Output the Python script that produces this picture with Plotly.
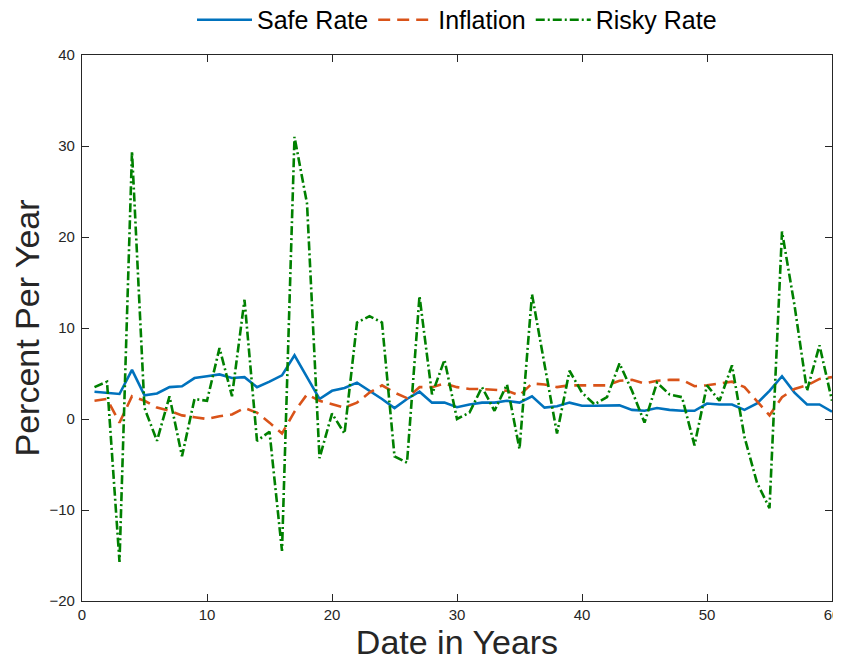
import plotly.graph_objects as go

years = list(range(1, 61))

safe_rate = [3.0, 2.9, 2.75, 5.4, 2.6, 2.8, 3.5, 3.6, 4.5, 4.7,
             4.9, 4.5, 4.6, 3.5, 4.1, 4.8, 7.0, 4.6, 2.2, 3.1,
             3.4, 4.0, 3.1, 2.2, 1.2, 2.2, 3.0, 1.8, 1.8, 1.3,
             1.6, 1.8, 1.8, 2.0, 1.8, 2.5, 1.25, 1.4, 1.8, 1.45,
             1.45, 1.5, 1.5, 1.0, 0.9, 1.2, 1.0, 0.9, 0.9, 1.7,
             1.6, 1.6, 1.0, 1.7, 3.1, 4.7, 2.9, 1.6, 1.6, 0.8]

inflation = [2.0, 2.2, -0.4, 2.5, 2.0, 1.25, 0.9, 0.4, 0.2, 0.0,
             0.3, 0.5, 1.2, 0.7, -0.4, -1.6, 0.8, 2.7, 2.0, 1.6,
             1.25, 1.8, 2.9, 3.7, 2.9, 2.3, 3.5, 3.5, 3.9, 3.5,
             3.3, 3.3, 3.2, 3.1, 2.6, 3.9, 3.8, 3.5, 3.7, 3.7,
             3.7, 3.7, 4.2, 4.3, 3.9, 4.2, 4.3, 4.3, 3.6, 3.7,
             3.9, 4.1, 3.5, 2.0, 0.4, 2.4, 3.3, 3.7, 4.4, 4.6]

risky_rate = [3.5, 4.1, -15.7, 29.4, 1.2, -2.4, 2.5, -4.1, 2.2, 2.0,
              7.8, 2.5, 13.1, -2.4, -1.4, -14.5, 31.0, 23.7, -4.3, 0.6,
              -1.6, 10.6, 11.3, 10.6, -4.1, -4.8, 13.5, 2.7, 6.5, 0.0,
              0.7, 3.5, 0.9, 3.8, -3.3, 13.7, 6.0, -1.6, 5.3, 2.9,
              1.6, 2.4, 6.1, 3.1, -0.4, 4.0, 2.7, 2.4, -2.9, 3.7,
              2.0, 5.9, -2.0, -7.0, -9.8, 20.6, 12.5, 3.1, 8.1, 2.0]

x_ticks = [0, 10, 20, 30, 40, 50, 60]
y_ticks = [-20, -10, 0, 10, 20, 30, 40]

FONT = "Liberation Sans, Arial, Helvetica, sans-serif"
AXC = "#262626"

fig = go.Figure()
fig.add_trace(go.Scatter(x=years, y=safe_rate, mode="lines", name="Safe Rate",
                         line=dict(color="#0072BD", width=2.6)))
fig.add_trace(go.Scatter(x=years, y=inflation, mode="lines", name="Inflation",
                         line=dict(color="#D95319", width=2.6, dash="12px,7px")))
fig.add_trace(go.Scatter(x=years, y=risky_rate, mode="lines", name="Risky Rate",
                         line=dict(color="#008000", width=2.6, dash="9px,3px,2px,3px")))

axis_common = dict(
    showgrid=False, zeroline=False, showline=True, linecolor=AXC, linewidth=1.3,
    mirror="ticks", ticks="inside", ticklen=7, tickwidth=1.3, tickcolor=AXC,
    tickfont=dict(family=FONT, size=15, color=AXC), automargin=False,
    ticklabeloverflow="allow",
)

# page body has an 8px default margin, so the figure is sized to fit the 841x661 window
fig.update_layout(
    width=833, height=653,
    margin=dict(l=74, r=9, t=47, b=60, autoexpand=False),
    paper_bgcolor="white", plot_bgcolor="white",
    font=dict(family=FONT, color=AXC),
    xaxis=dict(range=[0, 60], tickvals=x_ticks, ticklabelstandoff=0,
               title=dict(text="Date in Years", font=dict(family=FONT, size=34, color=AXC), standoff=0),
               **axis_common),
    yaxis=dict(range=[-20, 40], tickvals=y_ticks, ticklabelstandoff=3,
               title=dict(text="Percent Per Year", font=dict(family=FONT, size=34, color=AXC), standoff=1),
               **axis_common),
    legend=dict(orientation="h", x=0.5, xanchor="center", y=1.022, yanchor="bottom",
                font=dict(family=FONT, size=25, color="black"), bgcolor="rgba(0,0,0,0)",
                itemwidth=55, tracegroupgap=0),
    showlegend=True,
)

fig.write_html("out.html")
